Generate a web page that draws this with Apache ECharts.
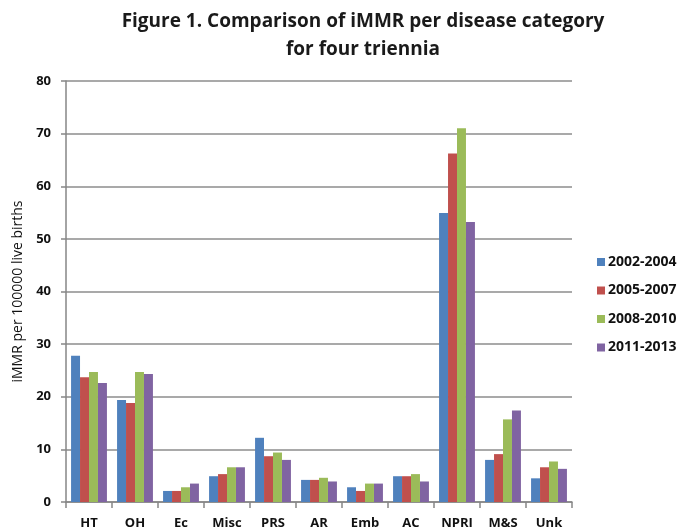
<!DOCTYPE html>
<html><head><meta charset="utf-8">
<script src="https://cdn.jsdelivr.net/npm/echarts@6/dist/echarts.min.js"></script>
<style>html,body{margin:0;padding:0;background:#fff}#c{width:682px;height:532px}</style>
</head><body><div id="c"></div>
<script>
var categories = ["HT","OH","Ec","Misc","PRS","AR","Emb","AC","NPRI","M&S","Unk"];
var seriesNames = ["2002-2004","2005-2007","2008-2010","2011-2013"];
var s2002 = [27.8,19.4,2.1,4.9,12.2,4.2,2.8,4.9,54.9,8.0,4.5];
var s2005 = [23.7,18.8,2.1,5.3,8.7,4.2,2.1,4.9,66.2,9.1,6.6];
var s2008 = [24.7,24.7,2.8,6.6,9.4,4.6,3.5,5.3,71.0,15.7,7.7];
var s2011 = [22.6,24.3,3.5,6.6,8.0,3.9,3.5,3.9,53.2,17.4,6.3];
var colors = ["#4F81BD","#C0504D","#9BBB59","#8064A2"];
var font = "Open Sans";
var chart = echarts.init(document.getElementById('c'));
var data = [s2002,s2005,s2008,s2011];
chart.setOption({
  animation:false,
  title:{text:"Figure 1. Comparison of iMMR per disease category\nfor four triennia",left:358,textAlign:'center',top:3,
    textStyle:{fontFamily:font,fontWeight:'bold',fontSize:19,lineHeight:28,color:'#1a1a1a'}},
  legend:{orient:'vertical',left:592,top:250,itemWidth:8,itemHeight:8,itemGap:14.5,icon:'rect',
    textStyle:{fontFamily:font,fontSize:14,fontWeight:'bold',color:'#111',padding:[0,0,0,-2]},data:seriesNames},
  grid:{left:66,right:110,top:81,bottom:30},
  xAxis:{type:'category',data:categories,
    axisLine:{lineStyle:{color:'#868686',width:1.5}},
    axisTick:{show:true,length:6,lineStyle:{color:'#868686',width:1.5}},
    axisLabel:{fontFamily:font,fontSize:13,fontWeight:'bold',color:'#111',margin:15}},
  yAxis:{type:'value',min:0,max:80,interval:10,
    name:"iMMR per 100000 live births",nameLocation:'middle',nameGap:35,nameRotate:90,
    nameTextStyle:{fontFamily:font,fontSize:14,color:'#111'},
    axisLine:{show:true,lineStyle:{color:'#868686',width:1.5}},
    axisTick:{show:true,length:5,lineStyle:{color:'#868686',width:1.5}},
    splitLine:{lineStyle:{color:'#8c8c8c',width:1.5}},
    axisLabel:{fontFamily:font,fontSize:13,fontWeight:'bold',color:'#111',margin:15}},
  series:seriesNames.map(function(n,i){return {name:n,type:'bar',data:data[i],barGap:'0%',barCategoryGap:'22%',
    itemStyle:{color:colors[i]}};})
});
</script></body></html>
